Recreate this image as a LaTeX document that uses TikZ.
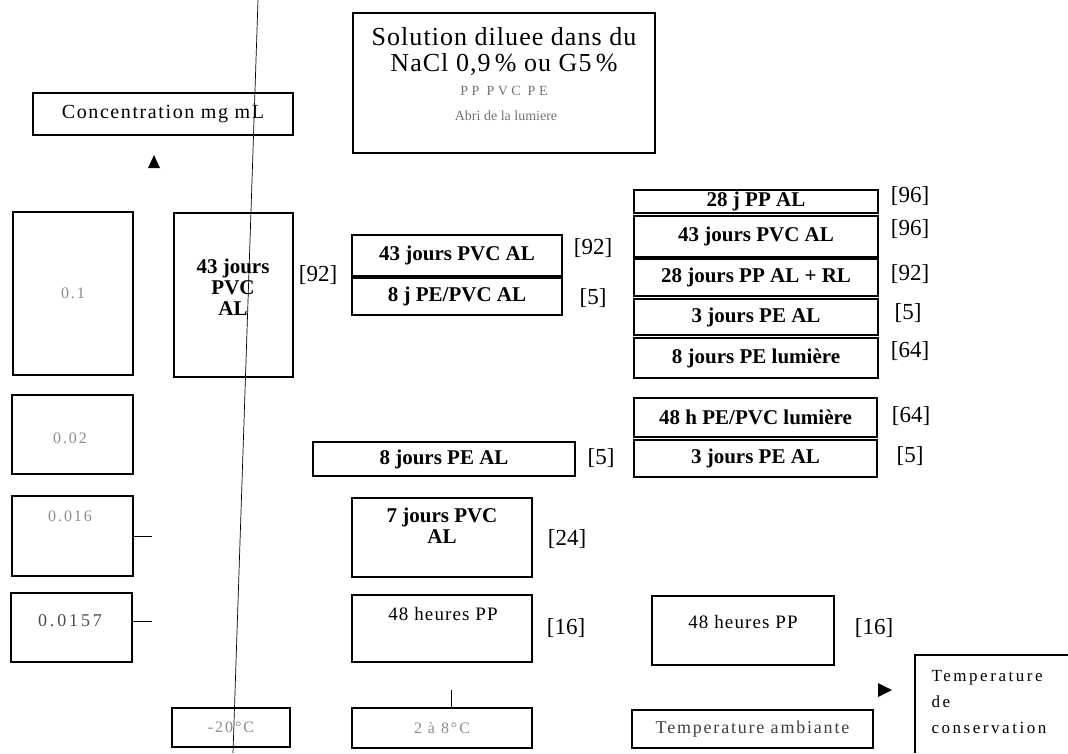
\documentclass[tikz,border=0pt]{standalone}
\usepackage{fontspec}
\setmainfont{Liberation Serif}
\tikzset{
  box/.style={draw, line width=1.3pt, inner sep=0pt},
  bt/.style={font=\fontsize{21}{21}\selectfont\bfseries, align=center},
  refl/.style={font=\fontsize{23}{25}\selectfont},
  faint/.style={font=\fontsize{16}{18}\selectfont\addfontfeature{LetterSpace=12}, text=black!45},
  plain/.style={font=\fontsize{19}{21}\selectfont\addfontfeature{LetterSpace=6}},
  thinline/.style={line width=0.7pt},
  tick/.style={line width=1pt}
}
% \Bx[options]{name}{x1}{y1}{x2}{y2}{text}
\newcommand\Bx[7][]{\node[box,minimum width={(#5-#3)*1pt},minimum height={(#6-#4)*1pt},#1] (#2) at ({(#3+#5)/2},{(#4+#6)/2}) {#7};}
\begin{document}
\begin{tikzpicture}[x=1pt,y=-1pt]
\useasboundingbox (0,0) rectangle (1068,753);

% long scan line
\coordinate (la) at (258,0);
\coordinate (lb) at (233,753);
\draw[thinline] (la) -- (lb);

% header boxes
\Bx[font=\fontsize{20}{22}\selectfont\addfontfeature{LetterSpace=8}]{conc}{33}{93}{293}{135}{Concentration mg mL}
\fill (148,168) -- (160,168) -- (154,155) -- cycle;

\Bx{sol}{353}{13}{655}{153}{}
\node[font=\fontsize{26}{28}\selectfont\addfontfeature{LetterSpace=4}] (sol1) at (504,37) {Solution diluee dans du};
\node[font=\fontsize{26}{28}\selectfont\addfontfeature{LetterSpace=4}] (sol2) at (504,64) {NaCl 0,9\,\% ou G5\,\%};
\node[font=\fontsize{14}{16}\selectfont\addfontfeature{LetterSpace=25}, text=black!55] (sol3) at (504,91) {PP PVC PE};
\node[font=\fontsize{14}{16}\selectfont, text=black!55] (sol4) at (506,116) {Abri de la lumiere};

% left concentration column
\Bx[faint]{c1}{13}{212}{133}{375}{0.1}
\Bx{c2}{12}{395}{133}{474}{}
\node[faint] (c2t) at (70,438) {0.02};
\Bx{c3}{12}{496}{133}{576}{}
\node[faint] (c3t) at (70,516) {0.016};
\Bx{c4}{11}{593}{132}{662}{}
\node[font=\fontsize{18}{20}\selectfont\addfontfeature{LetterSpace=16}, text=black!70] (c4t) at (70,621) {0.0157};
\coordinate (c3e) at (152,536);
\coordinate (c4e) at (152,621);
\draw[tick] (c3.east |- c3e) -- (c3e);
\draw[tick] (c4.east |- c4e) -- (c4e);

% -20 column
\Bx{big}{174}{213}{293}{377}{}
\node[bt] (bigt) at (233,287) {43 jours\\PVC\\AL};
\node[refl] (bigr) at (318,275) {[92]};

% middle top
\Bx[bt]{m1}{352}{235}{562}{276}{43 jours PVC AL}
\Bx[bt]{m2}{352}{278}{562}{315}{8 j PE/PVC AL}
\node[refl] (m1r) at (593,248) {[92]};
\node[refl] (m2r) at (593,298) {[5]};

% right stack
\Bx[bt]{r1}{634}{190}{878}{213}{28 j PP AL}
\Bx[bt]{r2}{634}{216}{878}{257}{43 jours PVC AL}
\Bx[bt]{r3}{634}{259}{878}{296}{28 jours PP AL + RL}
\Bx[bt]{r4}{634}{299}{878}{335}{3 jours PE AL}
\Bx[bt]{r5}{634}{338}{878}{378}{8 jours PE lumière}
\node[refl] (r1r) at (910,196) {[96]};
\node[refl] (r2r) at (910,229) {[96]};
\node[refl] (r3r) at (910,274) {[92]};
\node[refl] (r4r) at (908,313) {[5]};
\node[refl] (r5r) at (910,351) {[64]};

\Bx[bt]{s1}{634}{398}{877}{437}{48 h PE/PVC lumière}
\Bx[bt]{s2}{634}{440}{877}{477}{3 jours PE AL}
\node[refl] (s1r) at (911,416) {[64]};
\node[refl] (s2r) at (910,456) {[5]};

\Bx[bt]{m3}{313}{442}{575}{476}{8 jours PE AL}
\node[refl] (m3r) at (601,458) {[5]};

\Bx{m4}{352}{498}{532}{577}{}
\node[bt] (m4t) at (442,526) {7 jours PVC\\AL};
\node[refl] (m4r) at (567,539) {[24]};

\Bx{m5}{352}{595}{532}{662}{}
\node[plain] (m5t) at (443,614) {48 heures PP};
\node[refl] (m5r) at (566,628) {[16]};

\Bx{m6}{652}{596}{834}{665}{}
\node[plain] (m6t) at (743,622) {48 heures PP};
\node[refl] (m6r) at (874,628) {[16]};

% bottom temperature row
\Bx[faint]{b1}{172}{708}{290}{747}{-20°C}
\Bx[faint]{b2}{352}{708}{532}{748}{2 à 8°C}
\coordinate (tk) at (451,690);
\draw[tick] (b2.north -| tk) -- (tk);
\Bx[font=\fontsize{18}{20}\selectfont\addfontfeature{LetterSpace=10}, text=black!75]{b3}{632}{710}{873}{748}{Temperature ambiante}
\fill (878,683) -- (892,690) -- (878,697) -- cycle;
\coordinate (b4nw) at (915,655);
\coordinate (b4ne) at (1068,655);
\coordinate (b4sw) at (915,753);
\draw[line width=1.3pt] (b4ne) -- (b4nw) -- (b4sw);
\node[font=\fontsize{17}{26}\selectfont\addfontfeature{LetterSpace=15}, align=left, anchor=north west] (b4t) at (928,667) {Temperature\\de\\conservation};
\end{tikzpicture}
\end{document}
